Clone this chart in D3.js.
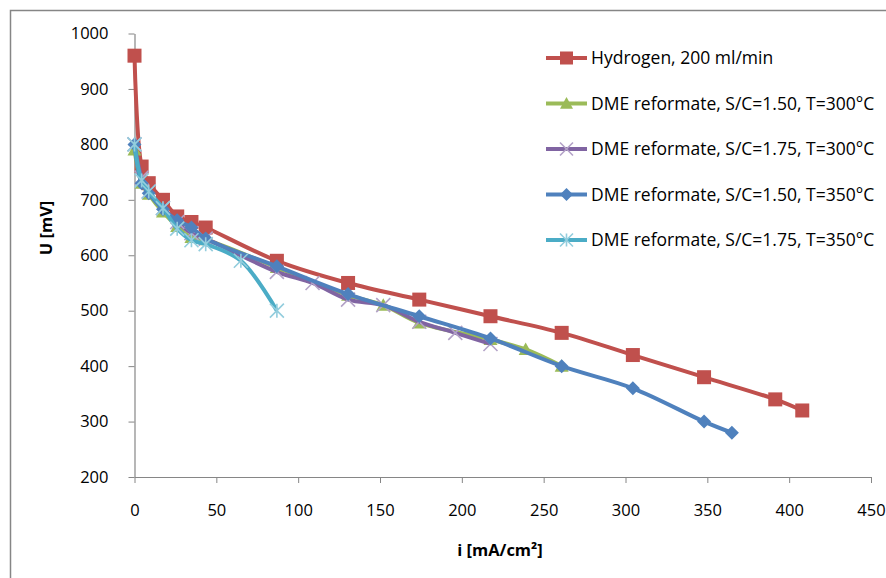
<!DOCTYPE html>
<html>
<head>
<meta charset="utf-8">
<script src="https://cdn.jsdelivr.net/npm/d3@7/dist/d3.min.js"></script>
<style>
	body { margin: 0; background: #fff; }
	text { font-family: 'Open Sans', 'Noto Sans', sans-serif; fill: #000; }
	.axis-title { font-size: 16.5px; font-weight: bold; }
	.legend-text { font-size: 17.5px; }
</style>
</head>
<body>
<div id="chart"></div>
<script>
	// current density steps, mA/cm2
	var iH2 = [0, 4.35, 8.7, 17.4, 26.1, 34.8, 43.5, 87, 130.5, 174, 217.5, 261, 304.5, 348, 391.5, 408];
	var uH2 = [960, 760, 730, 700, 670, 660, 650, 590, 550, 520, 490, 460, 420, 380, 340, 320];

	var iA = [0, 4.35, 8.7, 17.4, 26.1, 34.8, 43.5, 87, 130.5, 152, 174, 217.5, 239, 261];
	var uA = [790, 730, 710, 678, 652, 632, 628, 578, 528, 510, 478, 448, 430, 400];

	var iB = [0, 4.35, 8.7, 17.4, 26.1, 34.8, 43.5, 87, 108.8, 130.5, 152, 174, 196, 217.5];
	var uB = [800, 740, 715, 685, 660, 640, 630, 570, 550, 520, 510, 480, 460, 440];

	var iC = [0, 4.35, 8.7, 17.4, 26.1, 34.8, 43.5, 87, 130.5, 174, 217.5, 261, 304.5, 348, 365];
	var uC = [800, 730, 712, 683, 663, 650, 630, 580, 530, 490, 450, 400, 360, 300, 280];

	var iD = [0, 4.35, 8.7, 17.4, 26.1, 34.8, 43.5, 65, 87];
	var uD = [800, 735, 715, 685, 648, 627, 620, 590, 500];

	var seriesNames = [
		'Hydrogen, 200 ml/min',
		'DME reformate, S/C=1.50, T=300°C',
		'DME reformate, S/C=1.75, T=300°C',
		'DME reformate, S/C=1.50, T=350°C',
		'DME reformate, S/C=1.75, T=350°C'
	];
	var xTicks = [0, 50, 100, 150, 200, 250, 300, 350, 400, 450];
	var yTicks = [200, 300, 400, 500, 600, 700, 800, 900, 1000];

	var series = [
		{ name: seriesNames[0], x: iH2, y: uH2, color: '#C0504D', mark: 'square' },
		{ name: seriesNames[1], x: iA, y: uA, color: '#9BBB59', mark: 'triangle' },
		{ name: seriesNames[2], x: iB, y: uB, color: '#8064A2', mark: 'cross', light: '#B3A2C7' },
		{ name: seriesNames[3], x: iC, y: uC, color: '#4F81BD', mark: 'diamond' },
		{ name: seriesNames[4], x: iD, y: uD, color: '#4BACC6', mark: 'star', light: '#93CDDD' }
	];

	var W = 886, H = 578;
	var svg = d3.select('#chart').append('svg')
		.attr('width', W)
		.attr('height', H);

	//outer frame
	svg.append('rect')
		.attr('x', 10.5).attr('y', 10.5)
		.attr('width', W + 20).attr('height', H + 20)
		.attr('fill', 'none')
		.attr('stroke', '#868686')
		.attr('stroke-width', 1.5);

	var xScale = d3.scaleLinear().domain([0, 450]).range([134.5, 871]);
	var yScale = d3.scaleLinear().domain([200, 1000]).range([477, 33.5]);

	var xAxis = svg.append('g')
		.attr('transform', 'translate(0,' + yScale(200) + ')')
		.call(d3.axisBottom(xScale).tickValues(xTicks).tickFormat(d3.format('d'))
			.tickSize(6).tickSizeOuter(0).tickPadding(18));
	var yAxis = svg.append('g')
		.attr('transform', 'translate(' + xScale(0) + ',0)')
		.call(d3.axisLeft(yScale).tickValues(yTicks).tickFormat(d3.format('d'))
			.tickSize(6).tickSizeOuter(0).tickPadding(20));

	[xAxis, yAxis].forEach(function (ax) {
		ax.select('.domain').attr('stroke', '#868686').attr('stroke-width', 1.2);
		ax.selectAll('.tick line').attr('stroke', '#868686');
		ax.selectAll('.tick text')
			.attr('fill', '#000')
			.style('font-family', "'Open Sans', sans-serif")
			.style('font-size', '16.5px');
	});
	xAxis.selectAll('.tick text').attr('dy', '0.9em');

	svg.append('text')
		.attr('class', 'axis-title')
		.attr('x', 500).attr('y', 556)
		.attr('text-anchor', 'middle')
		.text('i [mA/cm²]');
	svg.append('text')
		.attr('class', 'axis-title')
		.attr('transform', 'translate(52,228) rotate(-90)')
		.attr('text-anchor', 'middle')
		.text('U [mV]');

	function drawMark(g, mark, s, color, light) {
		var r = s / 2;
		if (mark === 'square') {
			g.append('rect').attr('x', -r).attr('y', -r).attr('width', s).attr('height', s)
				.attr('fill', color);
		} else if (mark === 'triangle') {
			g.append('path').attr('d', 'M0,' + (-r) + 'L' + r + ',' + (r * 0.8) + 'L' + (-r) + ',' + (r * 0.8) + 'Z')
				.attr('fill', color);
		} else if (mark === 'diamond') {
			g.append('path').attr('d', 'M0,' + (-r) + 'L' + r + ',0L0,' + r + 'L' + (-r) + ',0Z')
				.attr('fill', color);
		} else if (mark === 'cross') {
			g.append('path').attr('d', 'M' + (-r) + ',' + (-r) + 'L' + r + ',' + r + 'M' + r + ',' + (-r) + 'L' + (-r) + ',' + r)
				.attr('stroke', light).attr('stroke-width', 1.6).attr('fill', 'none');
		} else if (mark === 'star') {
			g.append('path').attr('d', 'M' + (-r) + ',' + (-r) + 'L' + r + ',' + r + 'M' + r + ',' + (-r) + 'L' + (-r) + ',' + r + 'M0,' + (-r) + 'L0,' + r)
				.attr('stroke', light).attr('stroke-width', 1.6).attr('fill', 'none');
		}
	}

	var line = d3.line()
		.x(function (d) { return xScale(d[0]); })
		.y(function (d) { return yScale(d[1]); })
		.curve(d3.curveCatmullRom.alpha(0.5));

	series.forEach(function (sr) {
		var pts = sr.x.map(function (v, k) { return [v, sr.y[k]]; });
		svg.append('path')
			.datum(pts)
			.attr('d', line)
			.attr('fill', 'none')
			.attr('stroke', sr.color)
			.attr('stroke-width', 4)
			.attr('stroke-linejoin', 'round');
		pts.forEach(function (p) {
			var g = svg.append('g')
				.attr('transform', 'translate(' + xScale(p[0]) + ',' + yScale(p[1]) + ')');
			drawMark(g, sr.mark, 14, sr.color, sr.light);
		});
	});

	//legend
	var legendY = [58, 103.5, 149, 194.5, 240];
	series.forEach(function (sr, k) {
		var g = svg.append('g').attr('transform', 'translate(0,' + legendY[k] + ')');
		g.append('line')
			.attr('x1', 546).attr('x2', 587)
			.attr('y1', 0).attr('y2', 0)
			.attr('stroke', sr.color).attr('stroke-width', 4);
		var m = g.append('g').attr('transform', 'translate(566.5,0)');
		drawMark(m, sr.mark, 13, sr.color, sr.light);
		g.append('text')
			.attr('class', 'legend-text')
			.attr('x', 591).attr('y', 0)
			.attr('dy', '0.35em')
			.text(sr.name);
	});
</script>
</body>
</html>
